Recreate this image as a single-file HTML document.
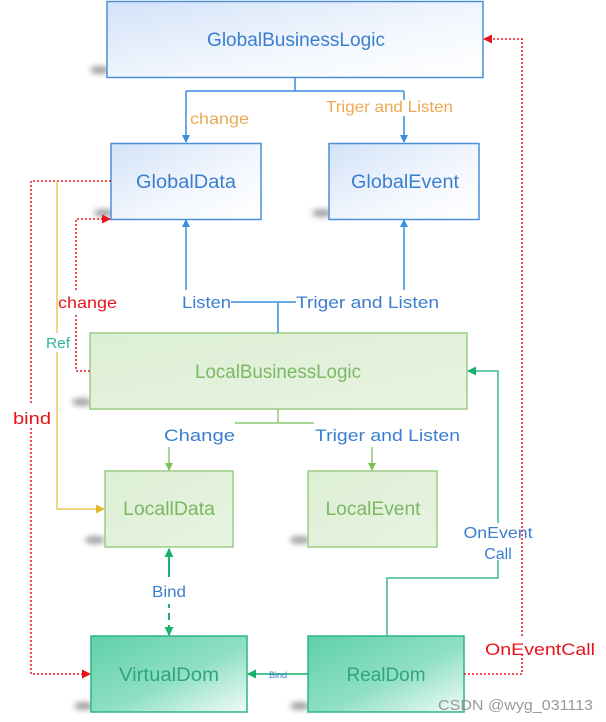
<!DOCTYPE html>
<html><head><meta charset="utf-8"><style>
html,body{margin:0;padding:0;background:#fff;}
svg{display:block;}
text{font-family:"Liberation Sans","DejaVu Sans",sans-serif;}
</style></head><body>
<svg width="606" height="722" viewBox="0 0 606 722" xmlns="http://www.w3.org/2000/svg">
<defs>
<linearGradient id="gb" x1="0" y1="0" x2="1" y2="1"><stop offset="0" stop-color="#d3e2f8"/><stop offset="0.6" stop-color="#f4f8fe"/><stop offset="1" stop-color="#ffffff"/></linearGradient>
<linearGradient id="gg" x1="0" y1="0" x2="1" y2="1"><stop offset="0" stop-color="#dcefd3"/><stop offset="1" stop-color="#e8f3e2"/></linearGradient>
<linearGradient id="gt" x1="0" y1="0" x2="1" y2="1"><stop offset="0" stop-color="#5fd0a9"/><stop offset="0.55" stop-color="#8fe0c3"/><stop offset="1" stop-color="#f2fbf7"/></linearGradient>
<filter id="bl" x="-50%" y="-50%" width="200%" height="200%"><feGaussianBlur stdDeviation="3"/></filter>
<marker id="ab" markerWidth="8" markerHeight="8" refX="7" refY="4" orient="auto" markerUnits="userSpaceOnUse"><path d="M0,0 L8,4 L0,8 z" fill="#3a8ee0"/></marker>
<marker id="ag" markerWidth="8" markerHeight="8" refX="7" refY="4" orient="auto" markerUnits="userSpaceOnUse"><path d="M0,0 L8,4 L0,8 z" fill="#7cc35a"/></marker>
<marker id="at" markerWidth="9" markerHeight="9" refX="8" refY="4.5" orient="auto" markerUnits="userSpaceOnUse"><path d="M0,0 L9,4.5 L0,9 z" fill="#17b06c"/></marker>
<marker id="ar" markerWidth="9" markerHeight="9" refX="8" refY="4.5" orient="auto" markerUnits="userSpaceOnUse"><path d="M0,0 L9,4.5 L0,9 z" fill="#e8141c"/></marker>
<marker id="ay" markerWidth="9" markerHeight="9" refX="8" refY="4.5" orient="auto" markerUnits="userSpaceOnUse"><path d="M0,0 L9,4.5 L0,9 z" fill="#e6b82a"/></marker>
</defs>

<!-- shadows -->
<g fill="#555" opacity="0.55" filter="url(#bl)">
<ellipse cx="100" cy="70" rx="10" ry="4"/>
<ellipse cx="104" cy="213" rx="10" ry="4"/>
<ellipse cx="322" cy="213" rx="10" ry="4"/>
<ellipse cx="82" cy="402" rx="10" ry="4"/>
<ellipse cx="95" cy="540" rx="10" ry="4"/>
<ellipse cx="300" cy="540" rx="10" ry="4"/>
<ellipse cx="84" cy="706" rx="10" ry="4"/>
<ellipse cx="300" cy="706" rx="10" ry="4"/>
</g>

<!-- boxes -->
<rect x="107" y="1.5" width="376" height="76" fill="url(#gb)" stroke="#4a8fd8" stroke-width="1.5"/>
<rect x="111" y="143.5" width="150" height="76" fill="url(#gb)" stroke="#4a8fd8" stroke-width="1.5"/>
<rect x="329" y="143.5" width="150" height="76" fill="url(#gb)" stroke="#4a8fd8" stroke-width="1.5"/>
<rect x="90" y="333" width="377" height="76" fill="url(#gg)" stroke="#9ccc85" stroke-width="1.5"/>
<rect x="105" y="471" width="128" height="76" fill="url(#gg)" stroke="#9ccc85" stroke-width="1.5"/>
<rect x="308" y="471" width="129" height="76" fill="url(#gg)" stroke="#9ccc85" stroke-width="1.5"/>
<rect x="91" y="636" width="156" height="76" fill="url(#gt)" stroke="#2fb585" stroke-width="1.5"/>
<rect x="308" y="636" width="156" height="76" fill="url(#gt)" stroke="#2fb585" stroke-width="1.5"/>

<!-- box labels -->
<g font-size="19" text-anchor="middle">
<text x="296" y="46" fill="#3a7fcf" textLength="178" lengthAdjust="spacingAndGlyphs">GlobalBusinessLogic</text>
<text x="186" y="188" fill="#3a7fcf" textLength="100" lengthAdjust="spacingAndGlyphs">GlobalData</text>
<text x="405" y="188" fill="#3a7fcf" textLength="108" lengthAdjust="spacingAndGlyphs">GlobalEvent</text>
<text x="278" y="378" fill="#7bb863" textLength="166" lengthAdjust="spacingAndGlyphs">LocalBusinessLogic</text>
<text x="169" y="515" fill="#7bb863" textLength="92" lengthAdjust="spacingAndGlyphs">LocallData</text>
<text x="373" y="515" fill="#7bb863" textLength="95" lengthAdjust="spacingAndGlyphs">LocalEvent</text>
<text x="169" y="681" fill="#2fa57a" textLength="100" lengthAdjust="spacingAndGlyphs">VirtualDom</text>
<text x="386" y="681" fill="#2fa57a" textLength="79" lengthAdjust="spacingAndGlyphs">RealDom</text>
</g>

<!-- blue connectors top -->
<g stroke="#3a8ee0" stroke-width="1.5" fill="none">
<path d="M295,77 V91 M186,91 H404"/>
<path d="M186,91 V142" marker-end="url(#ab)"/>
<path d="M404,91 V100 M404,116 V142" marker-end="url(#ab)"/>
<path d="M186,290 V220" marker-end="url(#ab)"/>
<path d="M404,290 V220" marker-end="url(#ab)"/>
<path d="M231,302 H296 M278,302 V333"/>
</g>
<g font-size="16">
<text x="190" y="124" fill="#eda852" textLength="59" lengthAdjust="spacingAndGlyphs">change</text>
<text x="326" y="112" fill="#eda852" textLength="127" lengthAdjust="spacingAndGlyphs">Triger and Listen</text>
<text x="182" y="308" fill="#3a7fcf" font-size="17" textLength="49" lengthAdjust="spacingAndGlyphs">Listen</text>
<text x="296" y="308" fill="#3a7fcf" font-size="17" textLength="143" lengthAdjust="spacingAndGlyphs">Triger and Listen</text>
</g>

<!-- green connectors middle -->
<g stroke="#8cc870" stroke-width="1.5" fill="none">
<path d="M278,409 V423 M235,423 H314"/>
<path d="M169,447 V470" marker-end="url(#ag)"/>
<path d="M372,447 V470" marker-end="url(#ag)"/>
</g>
<g font-size="17" fill="#3a7fcf">
<text x="164" y="441" textLength="71" lengthAdjust="spacingAndGlyphs">Change</text>
<text x="315" y="441" textLength="145" lengthAdjust="spacingAndGlyphs">Triger and Listen</text>
</g>

<!-- Bind vertical -->
<g stroke="#17b06c" stroke-width="2" fill="none">
<path d="M169,577 V549" marker-end="url(#at)"/>
<path d="M169,604 V608 M169,613 V620 M169,625 V635" marker-end="url(#at)"/>
<path d="M308,674 H248" stroke-width="1.5" marker-end="url(#at)"/>
</g>
<text x="169" y="597" font-size="16" fill="#3a7fcf" text-anchor="middle" textLength="34" lengthAdjust="spacingAndGlyphs">Bind</text>
<text x="278" y="678" font-size="9" fill="#3a7fcf" text-anchor="middle">Bind</text>

<!-- OnEvent call -->
<path d="M387,636 V578 H498 V560 M498,523 V371 H468" stroke="#3fb88e" stroke-width="1.5" fill="none" marker-end="url(#at)"/>
<g font-size="16" fill="#3a7fcf" text-anchor="middle">
<text x="498" y="538" textLength="69" lengthAdjust="spacingAndGlyphs">OnEvent</text>
<text x="498" y="559">Call</text>
</g>

<!-- red dashed -->
<g stroke="#e8141c" stroke-width="1.5" fill="none" stroke-dasharray="2,2">
<path d="M464,674 H522 V655 M522,636 V39 H484" marker-end="url(#ar)"/>
<path d="M111,181 H31 V405 M31,428 V674 H90" marker-end="url(#ar)"/>
<path d="M90,371 H76 V315 M76,290 V219 H110" marker-end="url(#ar)"/>
</g>
<g font-size="17" fill="#e8141c">
<text x="485" y="655" textLength="110" lengthAdjust="spacingAndGlyphs">OnEventCall</text>
<text x="13" y="424" textLength="38" lengthAdjust="spacingAndGlyphs">bind</text>
<text x="58" y="308" font-size="16" textLength="59" lengthAdjust="spacingAndGlyphs">change</text>
</g>

<!-- yellow Ref -->
<path d="M57,181 V333 M57,352 V509 H104" stroke="#ecc95a" stroke-width="1.5" fill="none" marker-end="url(#ay)"/>
<text x="46" y="348" font-size="15" fill="#2fb59a" textLength="24" lengthAdjust="spacingAndGlyphs">Ref</text>

<!-- watermark -->
<text x="438" y="710" font-size="15" fill="#888" opacity="0.85" textLength="155" lengthAdjust="spacingAndGlyphs">CSDN @wyg_031113</text>
</svg>
</body></html>
